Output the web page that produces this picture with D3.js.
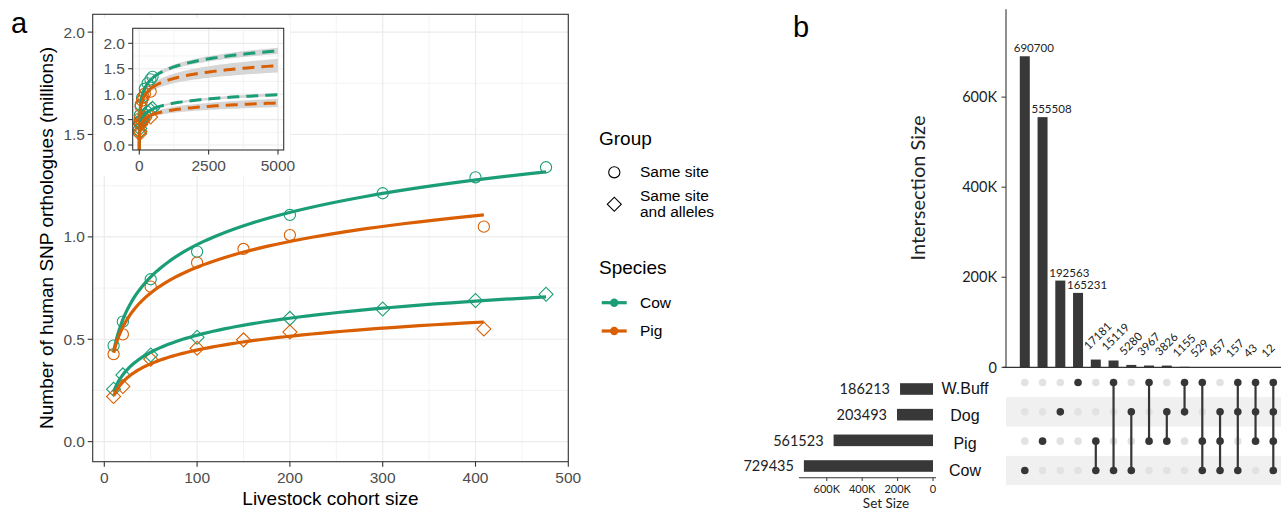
<!DOCTYPE html>
<html>
<head>
<meta charset="utf-8">
<title>SNP orthologues and UpSet</title>
<script src="https://cdn.jsdelivr.net/npm/d3@7"></script>
<style>
  body { margin: 0; background: #fff; }
  svg { display: block; }
  .sans { font-family: "Liberation Sans", Arial, sans-serif; }
  .lato { font-family: Lato, "Open Sans", sans-serif; }
</style>
</head>
<body>
<div id="chart"></div>
<script>
// ---- panel a data (millions of SNP orthologues) ----
var cowSize = [10, 20, 50, 100, 200, 300, 400, 476];
var cowSite = [0.469, 0.586, 0.793, 0.928, 1.107, 1.213, 1.291, 1.340];
var cowAlleles = [0.256, 0.326, 0.423, 0.510, 0.602, 0.648, 0.689, 0.720];
var pigSize = [10, 20, 50, 100, 150, 200, 409];
var pigSite = [0.427, 0.524, 0.757, 0.874, 0.941, 1.009, 1.050];
var pigAlleles = [0.220, 0.269, 0.402, 0.456, 0.497, 0.535, 0.550];
var xTicks = [0, 100, 200, 300, 400, 500];
var yTicks = [0, 0.5, 1, 1.5, 2];
var insetXTicks = [0, 2500, 5000];

// ---- panel b data ----
var setNames = ["W.Buff", "Dog", "Pig", "Cow"];
var setSizes = [186213, 203493, 561523, 729435];
var interSizes = [690700, 555508, 192563, 165231, 17181, 15119, 5280, 3967, 3826, 1155, 529, 457, 157, 43, 12];
var interSets = [["Cow"], ["Pig"], ["Dog"], ["W.Buff"], ["Pig", "Cow"], ["W.Buff", "Cow"], ["Dog", "Cow"],
  ["W.Buff", "Pig"], ["Dog", "Pig"], ["W.Buff", "Dog"], ["W.Buff", "Pig", "Cow"], ["Dog", "Pig", "Cow"],
  ["W.Buff", "Dog", "Cow"], ["W.Buff", "Dog", "Pig"], ["W.Buff", "Dog", "Pig", "Cow"]];
var interTicks = [0, 200000, 400000, 600000];
var setTicks = [0, 200000, 400000, 600000];

var green = "#1b9e77", orange = "#d95f02";
var tQ = {5: 2.571, 6: 2.447}; // 95% t quantiles

var series = [
  {x: cowSize, y: cowSite, color: green, shape: "circle"},
  {x: pigSize, y: pigSite, color: orange, shape: "circle"},
  {x: cowSize, y: cowAlleles, color: green, shape: "diamond"},
  {x: pigSize, y: pigAlleles, color: orange, shape: "diamond"}
];

// y ~ log(x) least squares, like geom_smooth(formula = y ~ log(x))
function logFit(xs, ys) {
  var u = xs.map(Math.log), n = xs.length;
  var ub = d3.mean(u), yb = d3.mean(ys);
  var sxx = d3.sum(u, function (v) { return (v - ub) * (v - ub); });
  var b = d3.sum(u, function (v, i) { return (v - ub) * (ys[i] - yb); }) / sxx;
  var a = yb - b * ub;
  var s = Math.sqrt(d3.sum(u, function (v, i) { var r = ys[i] - a - b * v; return r * r; }) / (n - 2));
  return {
    pred: function (x) { return a + b * Math.log(x); },
    se: function (x) { var d = Math.log(x) - ub; return tQ[n - 2] * s * Math.sqrt(1 / n + d * d / sxx); }
  };
}
function logSteps(x0, x1, k) {
  return d3.range(k + 1).map(function (i) { return x0 * Math.pow(x1 / x0, i / k); });
}
series.forEach(function (s) { s.fit = logFit(s.x, s.y); s.xmax = d3.max(s.x); });

var svg = d3.select("#chart").append("svg")
  .attr("width", 1281).attr("height", 512);

// ================= panel a =================
var x = d3.scaleLinear().domain([-12.5, 500]).range([92.7, 568.3]);
var y = d3.scaleLinear().domain([-0.098, 2.087]).range([461.7, 14.3]);
var gA = svg.append("g");

gA.append("clipPath").attr("id", "clipA").append("rect")
  .attr("x", 92.7).attr("y", 14.3).attr("width", 568.3 - 92.7).attr("height", 461.7 - 14.3);

// grid
gA.selectAll(".gxm").data([50, 150, 250, 350, 450]).enter().append("line")
  .attr("x1", x).attr("x2", x).attr("y1", 14.3).attr("y2", 461.7)
  .attr("stroke", "#ebebeb").attr("stroke-width", 0.6);
gA.selectAll(".gym").data([0.25, 0.75, 1.25, 1.75]).enter().append("line")
  .attr("y1", y).attr("y2", y).attr("x1", 92.7).attr("x2", 568.3)
  .attr("stroke", "#ebebeb").attr("stroke-width", 0.6);
gA.selectAll(".gx").data(xTicks).enter().append("line")
  .attr("x1", x).attr("x2", x).attr("y1", 14.3).attr("y2", 461.7)
  .attr("stroke", "#ebebeb").attr("stroke-width", 1.2);
gA.selectAll(".gy").data(yTicks).enter().append("line")
  .attr("y1", y).attr("y2", y).attr("x1", 92.7).attr("x2", 568.3)
  .attr("stroke", "#ebebeb").attr("stroke-width", 1.2);

function drawPoints(g, s, xs, ys) {
  var pts = s.x.map(function (v, i) { return [v, s.y[i]]; });
  if (s.shape === "circle") {
    g.selectAll(null).data(pts).enter().append("circle")
      .attr("cx", function (d) { return xs(d[0]); })
      .attr("cy", function (d) { return ys(d[1]); })
      .attr("r", 5.6).attr("fill", "none").attr("stroke", s.color).attr("stroke-width", 1.1);
  } else {
    g.selectAll(null).data(pts).enter().append("path")
      .attr("d", d3.symbol(d3.symbolSquare, 98))
      .attr("transform", function (d) { return "translate(" + xs(d[0]) + "," + ys(d[1]) + ") rotate(45)"; })
      .attr("fill", "none").attr("stroke", s.color).attr("stroke-width", 1.1);
  }
}

var plotA = gA.append("g").attr("clip-path", "url(#clipA)");
series.forEach(function (s) { drawPoints(plotA, s, x, y); });
series.forEach(function (s) {
  var line = d3.line().x(function (d) { return x(d); }).y(function (d) { return y(s.fit.pred(d)); });
  plotA.append("path").attr("d", line(logSteps(10, s.xmax, 80)))
    .attr("fill", "none").attr("stroke", s.color).attr("stroke-width", 3.2);
});

gA.append("rect").attr("x", 92.7).attr("y", 14.3).attr("width", 568.3 - 92.7).attr("height", 461.7 - 14.3)
  .attr("fill", "none").attr("stroke", "#333").attr("stroke-width", 1.1);

// axes ticks + labels
gA.selectAll(".tx").data(xTicks).enter().append("line")
  .attr("x1", x).attr("x2", x).attr("y1", 461.7).attr("y2", 466.7).attr("stroke", "#333").attr("stroke-width", 1.1);
gA.selectAll(".lx").data(xTicks).enter().append("text").attr("class", "sans")
  .attr("x", x).attr("y", 482.7).attr("text-anchor", "middle")
  .attr("font-size", 15.5).attr("fill", "#4d4d4d").text(function (d) { return d; });
gA.selectAll(".ty").data(yTicks).enter().append("line")
  .attr("y1", y).attr("y2", y).attr("x1", 87.7).attr("x2", 92.7).attr("stroke", "#333").attr("stroke-width", 1.1);
gA.selectAll(".ly").data(yTicks).enter().append("text").attr("class", "sans")
  .attr("x", 85).attr("y", y).attr("dy", "0.36em").attr("text-anchor", "end")
  .attr("font-size", 15.5).attr("fill", "#4d4d4d").text(d3.format(".1f"));

gA.append("text").attr("class", "sans").attr("x", 330.5).attr("y", 505)
  .attr("text-anchor", "middle").attr("font-size", 19).text("Livestock cohort size");
gA.append("text").attr("class", "sans")
  .attr("transform", "translate(53,238) rotate(-90)")
  .attr("text-anchor", "middle").attr("font-size", 19).text("Number of human SNP orthologues (millions)");
gA.append("text").attr("class", "sans").attr("x", 11).attr("y", 33).attr("font-size", 29).text("a");

// ---- inset ----
var xi = d3.scaleLinear().domain([-238, 5206]).range([132.7, 283.7]);
var yi = d3.scaleLinear().domain([-0.098, 2.295]).range([150, 28.3]);
var gI = svg.append("g");
gI.append("rect").attr("x", 96).attr("y", 18).attr("width", 194).attr("height", 158).attr("fill", "#fff");
gI.append("clipPath").attr("id", "clipI").append("rect")
  .attr("x", 132.7).attr("y", 28.3).attr("width", 151).attr("height", 121.7);
gI.selectAll(".gxm").data([1250, 3750]).enter().append("line")
  .attr("x1", xi).attr("x2", xi).attr("y1", 28.3).attr("y2", 150).attr("stroke", "#ebebeb").attr("stroke-width", 0.6);
gI.selectAll(".gym").data([0.25, 0.75, 1.25, 1.75, 2.25]).enter().append("line")
  .attr("y1", yi).attr("y2", yi).attr("x1", 132.7).attr("x2", 283.7).attr("stroke", "#ebebeb").attr("stroke-width", 0.6);
gI.selectAll(".gx").data(insetXTicks).enter().append("line")
  .attr("x1", xi).attr("x2", xi).attr("y1", 28.3).attr("y2", 150).attr("stroke", "#ebebeb").attr("stroke-width", 1.2);
gI.selectAll(".gy").data(yTicks).enter().append("line")
  .attr("y1", yi).attr("y2", yi).attr("x1", 132.7).attr("x2", 283.7).attr("stroke", "#ebebeb").attr("stroke-width", 1.2);

var plotI = gI.append("g").attr("clip-path", "url(#clipI)");
series.forEach(function (s) {
  var xs = logSteps(s.xmax, 5000, 60);
  var area = d3.area().x(function (d) { return xi(d); })
    .y0(function (d) { return yi(s.fit.pred(d) - s.fit.se(d)); })
    .y1(function (d) { return yi(s.fit.pred(d) + s.fit.se(d)); });
  plotI.append("path").attr("d", area(xs)).attr("fill", "#d6d6d6");
});
series.forEach(function (s) { drawPoints(plotI, s, xi, yi); });
series.forEach(function (s) {
  var line = d3.line().x(function (d) { return xi(d); }).y(function (d) { return yi(s.fit.pred(d)); });
  plotI.append("path").attr("d", line(logSteps(0.2, s.xmax, 80)))
    .attr("fill", "none").attr("stroke", s.color).attr("stroke-width", 3);
  plotI.append("path").attr("d", line(logSteps(s.xmax, 5000, 60)))
    .attr("fill", "none").attr("stroke", s.color).attr("stroke-width", 3)
    .attr("stroke-dasharray", "12,7");
});
gI.append("rect").attr("x", 132.7).attr("y", 28.3).attr("width", 151).attr("height", 121.7)
  .attr("fill", "none").attr("stroke", "#333").attr("stroke-width", 1.1);
gI.selectAll(".tx").data(insetXTicks).enter().append("line")
  .attr("x1", xi).attr("x2", xi).attr("y1", 150).attr("y2", 154.5).attr("stroke", "#333").attr("stroke-width", 1.1);
gI.selectAll(".lx").data(insetXTicks).enter().append("text").attr("class", "sans")
  .attr("x", xi).attr("y", 170.7).attr("text-anchor", "middle")
  .attr("font-size", 15.5).attr("fill", "#4d4d4d").text(function (d) { return d; });
gI.selectAll(".ty").data(yTicks).enter().append("line")
  .attr("y1", yi).attr("y2", yi).attr("x1", 128.2).attr("x2", 132.7).attr("stroke", "#333").attr("stroke-width", 1.1);
gI.selectAll(".ly").data(yTicks).enter().append("text").attr("class", "sans")
  .attr("x", 125).attr("y", yi).attr("dy", "0.36em").attr("text-anchor", "end")
  .attr("font-size", 15.5).attr("fill", "#4d4d4d").text(d3.format(".1f"));

// ---- legend ----
var gL = svg.append("g").attr("class", "sans");
gL.append("text").attr("x", 599).attr("y", 145).attr("font-size", 19).text("Group");
gL.append("circle").attr("cx", 614.3).attr("cy", 172.3).attr("r", 5.6)
  .attr("fill", "none").attr("stroke", "#000").attr("stroke-width", 1.1);
gL.append("text").attr("x", 640).attr("y", 177.3).attr("font-size", 15.5).text("Same site");
gL.append("path").attr("d", d3.symbol(d3.symbolSquare, 98))
  .attr("transform", "translate(614.3,204.3) rotate(45)")
  .attr("fill", "none").attr("stroke", "#000").attr("stroke-width", 1.1);
gL.append("text").attr("x", 640).attr("y", 200.7).attr("font-size", 15.5).text("Same site");
gL.append("text").attr("x", 640).attr("y", 217.3).attr("font-size", 15.5).text("and alleles");
gL.append("text").attr("x", 599).attr("y", 274).attr("font-size", 19).text("Species");
[["Cow", green, 302.7], ["Pig", orange, 331]].forEach(function (k) {
  gL.append("line").attr("x1", 601.7).attr("x2", 626.7).attr("y1", k[2]).attr("y2", k[2])
    .attr("stroke", k[1]).attr("stroke-width", 3.2);
  gL.append("circle").attr("cx", 614.2).attr("cy", k[2]).attr("r", 4.2).attr("fill", k[1]);
  gL.append("text").attr("x", 640).attr("y", k[2] + 5.4).attr("font-size", 15.5).text(k[0]);
});

// ================= panel b =================
var gB = svg.append("g");
gB.append("text").attr("class", "sans").attr("x", 793).attr("y", 37).attr("font-size", 29).text("b");

var col = d3.scalePoint().domain(d3.range(interSizes.length)).range([1024.8, 1273.3]);
var yb = d3.scaleLinear().domain([0, 795000]).range([367.3, 9.3]);
var barW = 10;

gB.selectAll(".ibar").data(interSizes).enter().append("rect")
  .attr("x", function (d, i) { return col(i) - barW / 2; })
  .attr("y", function (d) { return yb(d); })
  .attr("width", barW).attr("height", function (d) { return yb(0) - yb(d); })
  .attr("fill", "#383838");

gB.selectAll(".ilab").data(interSizes).enter().append("text").attr("class", "lato")
  .attr("font-size", 11.5).attr("fill", "#222")
  .attr("text-anchor", function (d, i) { return i < 4 ? "middle" : "start"; })
  .attr("transform", function (d, i) {
    if (i < 4) return "translate(" + (col(i) + 9) + "," + (yb(d) - 4) + ")";
    return "translate(" + (col(i) - 7) + "," + (yb(d) - 9) + ") rotate(-45)";
  })
  .text(function (d) { return d; });

gB.append("line").attr("x1", 1006).attr("x2", 1006).attr("y1", 9.3).attr("y2", 367.3)
  .attr("stroke", "#333").attr("stroke-width", 1.1);
gB.append("line").attr("x1", 1003).attr("x2", 1281).attr("y1", 367.3).attr("y2", 367.3)
  .attr("stroke", "#333").attr("stroke-width", 1.3);
gB.selectAll(".ity").data(interTicks).enter().append("line")
  .attr("x1", 1001.5).attr("x2", 1006).attr("y1", yb).attr("y2", yb).attr("stroke", "#333");
gB.selectAll(".ilb").data(interTicks).enter().append("text").attr("class", "lato")
  .attr("x", 997).attr("y", yb).attr("dy", "0.36em").attr("text-anchor", "end")
  .attr("font-size", 14.5).attr("fill", "#222")
  .text(function (d) { return d === 0 ? "0" : (d / 1000) + "K"; });
gB.append("text").attr("class", "lato")
  .attr("transform", "translate(925,188) rotate(-90)").attr("text-anchor", "middle")
  .attr("font-size", 20).attr("fill", "#222").text("Intersection Size");

// matrix
var row = d3.scalePoint().domain(setNames).range([382.5, 470.5]);
var rowH = row.step();
gB.selectAll(".stripe").data(["Dog", "Cow"]).enter().append("rect")
  .attr("x", 1006).attr("width", 275)
  .attr("y", function (d) { return row(d) - rowH / 2; }).attr("height", rowH)
  .attr("fill", "#f0f0f0");
interSets.forEach(function (sets, i) {
  var g = gB.append("g");
  g.selectAll("circle").data(setNames).enter().append("circle")
    .attr("cx", col(i)).attr("cy", function (d) { return row(d); }).attr("r", 3.8)
    .attr("fill", function (d) { return sets.indexOf(d) >= 0 ? "#363636" : "#e2e2e2"; });
  if (sets.length > 1) {
    var ys = sets.map(function (d) { return row(d); });
    g.append("line").attr("x1", col(i)).attr("x2", col(i))
      .attr("y1", d3.min(ys)).attr("y2", d3.max(ys))
      .attr("stroke", "#363636").attr("stroke-width", 2.2);
  }
});

// set sizes
var xs = d3.scaleLinear().domain([0, 757000]).range([933, 799]);
var setRow = d3.scalePoint().domain(setNames).range([389, 466]);
var labRow = d3.scalePoint().domain(setNames).range([388.5, 470]);
gB.selectAll(".sbar").data(setSizes).enter().append("rect")
  .attr("x", function (d) { return xs(d); })
  .attr("y", function (d, i) { return setRow(setNames[i]) - 5.8; })
  .attr("width", function (d) { return xs(0) - xs(d); }).attr("height", 11.6)
  .attr("fill", "#383838");
gB.selectAll(".slab").data(setSizes).enter().append("text").attr("class", "lato")
  .attr("x", function (d) { return xs(d) - 10; })
  .attr("y", function (d, i) { return setRow(setNames[i]); }).attr("dy", "0.36em")
  .attr("text-anchor", "end").attr("font-size", 14.5).attr("fill", "#222")
  .text(function (d) { return d; });
gB.selectAll(".sname").data(setNames).enter().append("text").attr("class", "sans")
  .attr("x", 965).attr("y", function (d) { return labRow(d); }).attr("dy", "0.36em")
  .attr("text-anchor", "middle").attr("font-size", 16).attr("fill", "#111")
  .text(function (d) { return d; });
gB.append("line").attr("x1", 799).attr("x2", 936).attr("y1", 477.7).attr("y2", 477.7)
  .attr("stroke", "#333").attr("stroke-width", 1.1);
gB.selectAll(".stk").data(setTicks).enter().append("line")
  .attr("x1", xs).attr("x2", xs).attr("y1", 477.7).attr("y2", 481).attr("stroke", "#333");
gB.selectAll(".stl").data(setTicks).enter().append("text").attr("class", "lato")
  .attr("x", xs).attr("y", 492.5).attr("text-anchor", "middle")
  .attr("font-size", 11).attr("fill", "#222")
  .text(function (d) { return d === 0 ? "0" : (d / 1000) + "K"; });
gB.append("text").attr("class", "lato").attr("x", 886).attr("y", 508)
  .attr("text-anchor", "middle").attr("font-size", 13.5).attr("fill", "#222").text("Set Size");
</script>
</body>
</html>
